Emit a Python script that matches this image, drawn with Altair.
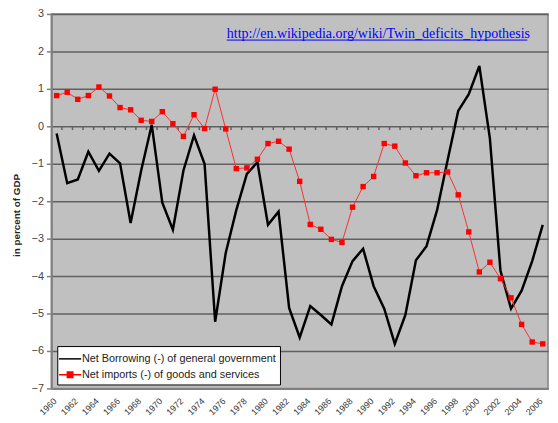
import altair as alt
import pandas as pd

years = list(range(1960, 2007))

net_borrowing = [-0.19, -1.52, -1.42, -0.68, -1.19, -0.73, -0.99, -2.58, -1.18, 0.04,
                 -2.04, -2.76, -1.18, -0.24, -1.01, -5.22, -3.38, -2.24, -1.27, -0.96,
                 -2.63, -2.28, -4.85, -5.64, -4.80, -5.04, -5.29, -4.27, -3.60, -3.27,
                 -4.27, -4.87, -5.81, -5.04, -3.58, -3.20, -2.24, -0.90, 0.41, 0.86,
                 1.61, -0.33, -3.86, -4.87, -4.39, -3.60, -2.63]

net_imports = [0.82, 0.91, 0.72, 0.82, 1.05, 0.81, 0.50, 0.44, 0.16, 0.13,
               0.39, 0.07, -0.27, 0.31, -0.06, 0.99, -0.07, -1.13, -1.11, -0.88,
               -0.46, -0.40, -0.61, -1.47, -2.62, -2.75, -3.02, -3.10, -2.16, -1.61,
               -1.34, -0.46, -0.53, -0.98, -1.32, -1.24, -1.24, -1.22, -1.83, -2.82,
               -3.89, -3.63, -4.07, -4.58, -5.29, -5.76, -5.81]

series_names = ["Net Borrowing (-) of general government",
                "Net imports (-) of goods and services"]
series_colors = ["#000000", "#FF0000"]
x_labels = list(range(1960, 2007, 2))
y_ticks = list(range(-7, 4))
url_text = "http://en.wikipedia.org/wiki/Twin_deficits_hypothesis"

df = pd.DataFrame({
    "year": years * 2,
    "value": net_borrowing + net_imports,
    "series": [series_names[0]] * len(years) + [series_names[1]] * len(years),
})
ticks_df = pd.DataFrame({"year": years[:-1]})

FONT = "Liberation Sans"

xscale = alt.Scale(domain=[1959.5, 2006.5], nice=False, zero=False)
yscale = alt.Scale(domain=[-7, 3], nice=False, zero=False)

x_axis = alt.Axis(values=x_labels, format="d", labelAngle=315,
                  labelAlign="right", labelBaseline="middle",
                  labelFontSize=9, labelColor="#333333", labelFont=FONT,
                  labelPadding=11, labelOffset=-2, ticks=False, grid=False, title=None,
                  domainColor="#808080", domainWidth=2,
                  labelOverlap=False, labelBound=False)
y_axis = alt.Axis(values=y_ticks, tickCount=11, title="in percent of GDP",
                  titleFontSize=10, titleFontWeight="bold", titleFont=FONT,
                  titleColor="#222222", titleAngle=270, titleX=-35, titleY=204,
                  titleAlign="center", titleBaseline="middle",
                  labelFontSize=11, labelColor="#444444", labelFont=FONT,
                  labelPadding=3, tickSize=5, tickColor="#808080", tickWidth=1.5,
                  domainColor="#808080", domainWidth=2, labelOverlap=False,
                  grid=True, gridColor="#606060", gridWidth=1.5)

base = alt.Chart(df)

black_line = base.transform_filter(
    alt.datum.series == series_names[0]
).mark_line(color="#000000", strokeWidth=2.5).encode(
    x=alt.X("year:Q", scale=xscale, axis=x_axis),
    y=alt.Y("value:Q", scale=yscale, axis=y_axis))

red_line = base.transform_filter(
    alt.datum.series == series_names[1]
).mark_line(color="#F83030", strokeWidth=1).encode(
    x=alt.X("year:Q", axis=x_axis), y=alt.Y("value:Q", axis=y_axis))

red_pts = base.transform_filter(
    alt.datum.series == series_names[1]
).mark_square(color="#FF0000", size=30, opacity=1).encode(
    x=alt.X("year:Q", axis=x_axis), y=alt.Y("value:Q", axis=y_axis))

zero_ticks = alt.Chart(ticks_df).transform_calculate(
    b="datum.year + 0.5", y0="0", y1="-0.1"
).mark_rule(color="#606060", strokeWidth=1.5).encode(
    x=alt.X("b:Q", axis=x_axis), y=alt.Y("y0:Q", axis=y_axis), y2="y1:Q")

legend_cfg = alt.Legend(title=None, orient="none", legendX=6, legendY=337,
                        fillColor="#FFFFFF", strokeColor="#000000", padding=4,
                        labelFont=FONT, labelFontSize=11, labelColor="#222222",
                        symbolSize=256, symbolStrokeWidth=1.5, rowPadding=2,
                        labelOffset=3, labelLimit=400)
sc = alt.Scale(domain=series_names, range=series_colors)
shape_sc = alt.Scale(domain=series_names,
                     range=["M-1.4,0H1.4",
                            "M-1.4,0H1.4M-0.35,-0.35H0.35V0.35H-0.35Z"])

legend_layer = base.transform_filter("false").mark_point(
    filled=True, opacity=1, strokeWidth=1.5
).encode(
    x=alt.X("year:Q", axis=x_axis), y=alt.Y("value:Q", axis=y_axis),
    stroke=alt.Stroke("series:N", scale=sc, legend=legend_cfg),
    fill=alt.Fill("series:N", scale=sc, legend=legend_cfg),
    shape=alt.Shape("series:N", scale=shape_sc, legend=legend_cfg),
)

url = alt.Chart(pd.DataFrame({"t": [url_text]})).mark_text(
    font="Liberation Serif", fontSize=14.2, color="#0000FF", align="left",
    baseline="alphabetic"
).encode(text="t:N", x=alt.value(178), y=alt.value(24))

underline = alt.Chart(pd.DataFrame({"t": [url_text]})).mark_rule(
    color="#0000FF", strokeWidth=1
).encode(x=alt.value(178), x2=alt.value(483), y=alt.value(26.5))

chart = alt.layer(
    black_line, zero_ticks, red_line, red_pts, legend_layer, url, underline
).properties(
    width=504, height=380,
    autosize=alt.AutoSizeParams(type="none"),
    padding={"left": 44, "top": 3, "right": 2, "bottom": 30},
    background="#FFFFFF",
).configure_view(
    fill="#C0C0C0", stroke="#808080", strokeWidth=1.5
)

chart.save("out.html", embed_options={"renderer": "svg", "actions": False})
